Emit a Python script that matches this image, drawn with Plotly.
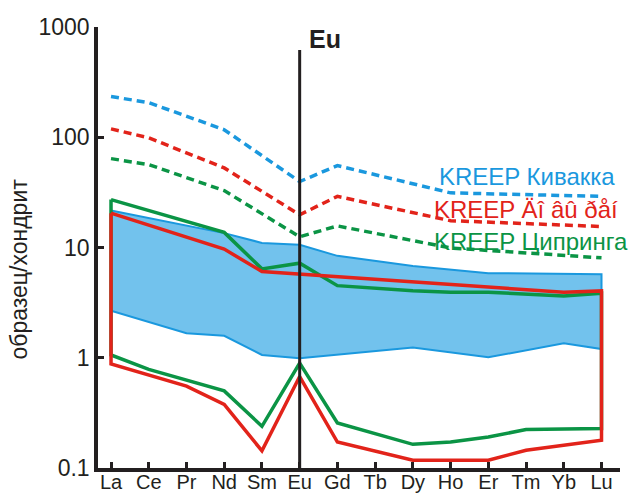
import plotly.graph_objects as go

# ---------------- data ----------------
categories = ["La", "Ce", "Pr", "Nd", "Sm", "Eu", "Gd", "Tb", "Dy", "Ho", "Er", "Tm", "Yb", "Lu"]

# KREEP reference patterns (dashed)
kreep_kivakka = [234, 206, None, 117, None, 39.6, 55.3, None, None, 31.3, None, None, None, 29.1]
kreep_red = [119, 98.8, None, 52.7, None, 19.8, 29.1, None, None, 17.5, None, None, None, 15.5]
kreep_tsipringa = [64, 56.5, None, 32.8, None, 12.5, 15.7, None, None, 9.9, None, None, None, 8.06]

# Blue field (upper / lower envelope)
blue_upper = [21.7, None, None, 13.5, 11.0, 10.6, 8.4, None, 6.8, None, 5.85, None, None, 5.73]
blue_lower = [2.67, None, 1.67, 1.58, 1.06, 0.99, None, None, 1.24, None, 1.01, None, 1.35, 1.20]

# Green field
green_upper = [27.2, None, None, 13.7, 6.40, 7.21, 4.51, None, 4.06, 3.93, 3.93, None, 3.64, 3.85]
green_lower = [1.06, 0.785, 0.627, 0.50, 0.239, 0.896, 0.256, None, 0.164, 0.172, 0.191, 0.223, None, 0.228]

# Red field
red_upper = [20.5, None, None, 9.67, 6.05, 5.73, None, None, 4.81, None, None, None, 3.93, 4.04]
red_lower = [0.877, None, 0.553, 0.377, 0.143, 0.675, 0.172, None, 0.1175, None, 0.1175, 0.145, None, 0.179]

y_tickvals = [0.1, 1, 10, 100, 1000]
y_ticktext = ["0.1", "1", "10", "100", "1000"]

labels = ["KREEP Кивакка", "KREEP Äî âû ðåí", "KREEP Ципринга"]
y_title = "образец/хондрит"

# ---------------- styles ----------------
BLACK = "#231f20"
BLUE = "#1a98de"
BLUE_FILL = "#72c2ed"
RED = "#e2231a"
GREEN = "#0b9445"
FONT = "Liberation Sans, Arial, sans-serif"


def polygon(upper, lower):
    up = [(c, v) for c, v in zip(categories, upper) if v is not None]
    lo = [(c, v) for c, v in zip(categories, lower) if v is not None]
    pts = up + lo[::-1] + [up[0]]
    return [p[0] for p in pts], [p[1] for p in pts]


fig = go.Figure()

bx, by = polygon(blue_upper, blue_lower)
fig.add_trace(go.Scatter(x=bx, y=by, mode="lines", fill="toself", fillcolor=BLUE_FILL,
                         line=dict(color=BLUE, width=2), showlegend=False, hoverinfo="skip"))

gx, gy = polygon(green_upper, green_lower)
fig.add_trace(go.Scatter(x=gx, y=gy, mode="lines", line=dict(color=GREEN, width=3.5),
                         showlegend=False))

rx, ry = polygon(red_upper, red_lower)
fig.add_trace(go.Scatter(x=rx, y=ry, mode="lines", line=dict(color=RED, width=3.5),
                         showlegend=False))

for vals, col in [(kreep_kivakka, BLUE), (kreep_red, RED), (kreep_tsipringa, GREEN)]:
    fig.add_trace(go.Scatter(x=categories, y=vals, mode="lines", connectgaps=True,
                             line=dict(color=col, width=3.5, dash="8px,5px"),
                             showlegend=False))

# Eu vertical line
fig.add_shape(type="line", xref="x", yref="paper", x0="Eu", x1="Eu", y0=0, y1=0.948,
              line=dict(color=BLACK, width=3))

fig.add_annotation(text="<b>Eu</b>", xref="x", yref="paper", x=5.2, y=0.973,
                   xanchor="left", yanchor="middle", showarrow=False,
                   font=dict(family=FONT, size=25, color=BLACK))

# KREEP labels
for txt, col, xp, yp in [(labels[0], BLUE, 437, 176.5), (labels[1], RED, 432, 209),
                         (labels[2], GREEN, 432, 241.5)]:
    fig.add_annotation(text=txt, xref="paper", yref="paper",
                       x=(xp - 98) / 522, y=(468 - yp) / 441,
                       xanchor="left", yanchor="middle", showarrow=False,
                       font=dict(family=FONT, size=24, color=col))

# y-axis title
fig.add_annotation(text=y_title, xref="paper", yref="paper", x=(18 - 98) / 522,
                   y=(468 - 269.5) / 441, textangle=-90, showarrow=False,
                   xanchor="center", yanchor="middle",
                   font=dict(family=FONT, size=23, color=BLACK))

fig.update_layout(
    width=630, height=494,
    margin=dict(l=98, r=10, t=27, b=26, autoexpand=False),
    paper_bgcolor="white", plot_bgcolor="white",
    font=dict(family=FONT, color=BLACK),
    xaxis=dict(type="category", categoryorder="array", categoryarray=categories,
               range=[-0.345, 13.49], showline=True, linecolor=BLACK, linewidth=3.5,
               ticks="inside", ticklen=6, tickwidth=3, tickcolor=BLACK,
               ticklabelstandoff=-7,
               showgrid=False, zeroline=False, tickfont=dict(size=20, color=BLACK)),
    yaxis=dict(type="log", range=[-1, 3], tickvals=y_tickvals, ticktext=y_ticktext,
               showline=True, linecolor=BLACK, linewidth=3.5,
               ticks="inside", ticklen=6, tickwidth=3, tickcolor=BLACK,
               showgrid=False, zeroline=False, tickfont=dict(size=23, color=BLACK)),
)

fig.write_html("out.html", config={"displayModeBar": False},
               post_script="document.body.style.margin='0px';")
